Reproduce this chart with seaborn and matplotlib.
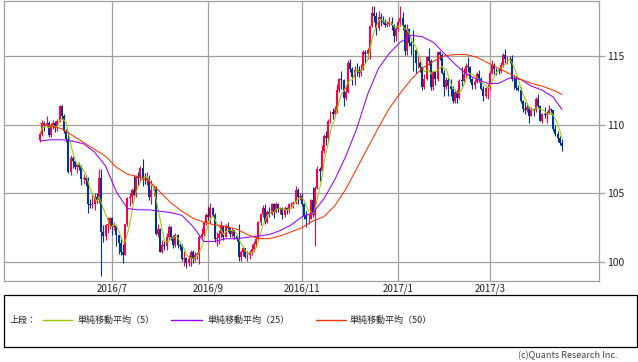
import numpy as np
import pandas as pd
import matplotlib
matplotlib.use("Agg")
import matplotlib.pyplot as plt
from matplotlib.patches import Rectangle
from matplotlib.lines import Line2D
import seaborn as sns

# USD/JPY daily candles 2016/5/17 - 2017/4/17
opens = [
    108.90, 109.35, 110.15, 109.95, 110.15, 109.25, 109.95, 110.15, 109.75, 110.25,
    111.35, 110.65, 109.55, 108.95, 106.55, 107.55, 107.35, 106.95, 107.05, 106.95,
    106.05, 106.15, 105.95, 104.25, 104.15, 104.25, 104.75, 104.55, 106.10, 102.20,
    101.90, 102.70, 102.75, 103.20, 102.55, 102.60, 101.95, 101.40, 100.75, 100.55,
    102.75, 104.65, 104.70, 105.25, 104.85, 106.20, 106.15, 106.85, 106.05, 105.95,
    106.15, 104.70, 105.25, 105.30, 102.05, 102.40, 100.75, 101.25, 101.20, 101.80,
    102.55, 101.85, 101.25, 101.95, 101.25, 101.20, 100.25, 100.30, 99.90, 100.20,
    100.75, 100.20, 100.50, 100.55, 101.85, 102.05, 102.90, 103.40, 103.25, 103.95,
    103.40, 101.70, 101.75, 102.05, 102.65, 101.85, 102.65, 102.45, 102.05, 102.30,
    101.90, 101.70, 100.35, 100.75, 101.00, 100.40, 100.50, 100.70, 100.95, 101.35,
    101.65, 102.90, 103.50, 103.95, 102.95, 103.65, 103.50, 104.20, 103.65, 104.20,
    103.85, 103.90, 103.45, 103.95, 103.80, 104.20, 104.25, 104.30, 105.25, 104.75,
    104.80, 104.20, 103.35, 103.10, 103.15, 104.50, 103.40, 105.40, 106.80, 106.65,
    108.10, 109.15, 109.05, 110.25, 110.90, 110.80, 111.10, 112.50, 113.35, 113.25,
    111.95, 112.40, 114.45, 114.05, 113.50, 114.00, 113.95, 113.75, 114.00, 115.30,
    115.15, 115.40, 117.15, 118.10, 117.90, 117.00, 117.85, 117.60, 117.50, 117.25,
    117.35, 117.45, 117.25, 116.45, 116.95, 117.45, 117.75, 117.25, 115.35, 116.95,
    115.95, 115.75, 115.40, 114.45, 114.50, 114.20, 112.75, 113.35, 114.95, 114.60,
    112.75, 113.80, 113.30, 115.30, 115.10, 113.75, 112.75, 113.25, 112.80, 112.60,
    111.75, 112.35, 111.95, 113.20, 113.15, 113.70, 114.25, 114.20, 113.30, 112.85,
    113.10, 113.65, 113.35, 112.60, 112.10, 112.70, 112.75, 113.75, 114.35, 114.05,
    113.95, 113.90, 114.35, 115.05, 114.75, 114.80, 114.75, 113.35, 113.30, 112.70,
    112.55, 111.75, 111.15, 111.10, 111.30, 110.65, 111.10, 111.05, 111.90, 111.35,
    110.30, 110.75, 110.70, 110.85, 111.10, 111.05, 109.65, 109.35, 109.05, 108.65,
]
closes = [
    109.35, 110.15, 109.95, 110.15, 109.25, 109.95, 110.15, 109.75, 110.25, 111.35,
    110.65, 109.55, 108.95, 106.55, 107.55, 107.35, 106.95, 107.05, 106.95, 106.05,
    106.15, 105.95, 104.25, 104.15, 104.25, 104.75, 104.55, 106.10, 102.20, 101.90,
    102.70, 102.75, 103.20, 102.55, 102.60, 101.95, 101.40, 100.75, 100.55, 102.75,
    104.65, 104.70, 105.25, 104.85, 106.20, 106.15, 106.85, 106.05, 105.95, 106.15,
    104.70, 105.25, 105.30, 102.05, 102.40, 100.75, 101.25, 101.20, 101.80, 102.55,
    101.85, 101.25, 101.95, 101.25, 101.20, 100.25, 100.30, 99.90, 100.20, 100.75,
    100.20, 100.50, 100.55, 101.85, 102.05, 102.90, 103.40, 103.25, 103.95, 103.40,
    101.70, 101.75, 102.05, 102.65, 101.85, 102.65, 102.45, 102.05, 102.30, 101.90,
    101.70, 100.35, 100.75, 101.00, 100.40, 100.50, 100.70, 100.95, 101.35, 101.65,
    102.90, 103.50, 103.95, 102.95, 103.65, 103.50, 104.20, 103.65, 104.20, 103.85,
    103.90, 103.45, 103.95, 103.80, 104.20, 104.25, 104.30, 105.25, 104.75, 104.80,
    104.20, 103.35, 103.10, 103.15, 104.50, 103.40, 105.40, 106.80, 106.65, 108.10,
    109.15, 109.05, 110.25, 110.90, 110.80, 111.10, 112.50, 113.35, 113.25, 111.95,
    112.40, 114.45, 114.05, 113.50, 114.00, 113.95, 113.75, 114.00, 115.30, 115.15,
    115.40, 117.15, 118.10, 117.90, 117.00, 117.85, 117.60, 117.50, 117.25, 117.35,
    117.45, 117.25, 116.45, 116.95, 117.45, 117.75, 117.25, 115.35, 116.95, 115.95,
    115.75, 115.40, 114.45, 114.50, 114.20, 112.75, 113.35, 114.95, 114.60, 112.75,
    113.80, 113.30, 115.30, 115.10, 113.75, 112.75, 113.25, 112.80, 112.60, 111.75,
    112.35, 111.95, 113.20, 113.15, 113.70, 114.25, 114.20, 113.30, 112.85, 113.10,
    113.65, 113.35, 112.60, 112.10, 112.70, 112.75, 113.75, 114.35, 114.05, 113.95,
    113.90, 114.35, 115.05, 114.75, 114.80, 114.75, 113.35, 113.30, 112.70, 112.55,
    111.75, 111.15, 111.10, 111.30, 110.65, 111.10, 111.05, 111.90, 111.35, 110.30,
    110.75, 110.70, 110.85, 111.10, 111.05, 109.65, 109.35, 109.05, 108.65, 108.45,
]
highs = [
    109.50, 110.35, 110.30, 110.60, 110.25, 110.10, 110.35, 110.25, 110.40, 111.45,
    111.40, 110.80, 109.70, 109.50, 107.80, 107.75, 107.45, 107.20, 107.30, 107.05,
    106.40, 106.30, 106.20, 104.60, 104.85, 105.00, 105.00, 106.80, 106.80, 102.70,
    102.80, 103.30, 103.30, 103.30, 102.90, 102.70, 102.00, 101.80, 101.30, 102.80,
    104.70, 105.00, 105.40, 106.30, 106.30, 106.55, 107.00, 107.50, 106.50, 106.55,
    106.30, 106.00, 105.50, 105.50, 102.80, 102.50, 101.60, 101.50, 102.10, 102.70,
    102.65, 101.95, 102.10, 102.05, 101.40, 101.30, 100.80, 100.40, 100.50, 100.85,
    100.90, 100.75, 100.70, 102.00, 102.50, 103.00, 103.55, 104.05, 104.30, 104.00,
    103.60, 102.20, 102.30, 103.00, 102.70, 102.80, 102.90, 102.50, 102.50, 102.35,
    102.00, 102.80, 100.90, 101.20, 101.05, 100.80, 100.90, 101.30, 101.50, 101.80,
    103.00, 103.60, 104.15, 104.20, 103.80, 104.00, 104.30, 104.30, 104.40, 104.25,
    104.00, 104.00, 104.10, 104.00, 104.30, 104.40, 104.45, 105.50, 105.40, 105.00,
    105.00, 104.30, 103.70, 103.50, 104.60, 105.45, 105.50, 107.00, 106.95, 108.55,
    109.35, 109.50, 110.40, 111.00, 111.20, 111.35, 112.95, 113.40, 113.90, 113.30,
    112.90, 114.70, 114.80, 114.20, 114.30, 114.50, 114.30, 114.40, 115.40, 115.45,
    115.60, 117.20, 118.65, 118.60, 118.20, 118.25, 118.15, 117.90, 117.70, 117.55,
    117.80, 117.80, 117.30, 117.20, 117.60, 118.60, 118.20, 117.30, 117.30, 117.05,
    116.10, 116.90, 115.45, 115.00, 114.60, 114.30, 113.70, 115.00, 115.60, 114.75,
    113.90, 113.90, 115.35, 115.35, 115.20, 114.00, 113.50, 113.40, 113.30, 112.80,
    112.50, 112.50, 113.30, 114.20, 114.15, 114.50, 114.95, 114.30, 113.40, 113.30,
    113.80, 113.95, 113.50, 112.80, 112.75, 112.95, 113.90, 114.70, 114.50, 114.10,
    114.10, 114.55, 115.20, 115.50, 115.00, 115.00, 115.10, 113.60, 113.55, 112.90,
    112.75, 111.80, 111.65, 111.60, 111.35, 111.30, 111.20, 112.00, 112.20, 111.40,
    110.85, 111.30, 111.00, 111.40, 111.20, 111.10, 109.95, 109.50, 109.20, 108.95,
]
lows = [
    108.75, 109.20, 109.55, 109.80, 109.10, 109.10, 109.70, 109.45, 109.50, 110.20,
    110.40, 109.40, 108.75, 106.50, 106.30, 106.85, 106.80, 106.50, 106.70, 105.60,
    105.70, 105.50, 103.55, 103.90, 103.90, 103.80, 104.30, 104.30, 99.00, 101.45,
    101.60, 102.10, 102.40, 102.00, 102.30, 101.20, 100.60, 100.50, 99.95, 100.50,
    102.60, 104.05, 104.30, 104.80, 104.75, 105.60, 105.80, 105.50, 105.70, 105.60,
    104.50, 104.20, 104.80, 102.00, 101.80, 100.70, 100.65, 100.90, 100.90, 101.60,
    101.60, 101.00, 101.10, 101.00, 100.90, 100.10, 99.70, 99.55, 99.70, 99.75,
    99.90, 100.05, 100.25, 99.85, 101.75, 101.90, 102.70, 103.05, 102.85, 103.30,
    101.45, 101.20, 101.35, 101.75, 101.60, 101.80, 102.20, 101.80, 101.80, 101.70,
    101.50, 100.10, 100.10, 100.45, 100.30, 100.10, 100.20, 100.50, 100.70, 101.10,
    101.50, 102.70, 103.30, 102.80, 102.85, 103.30, 103.40, 103.20, 103.60, 103.65,
    103.50, 103.10, 103.30, 103.50, 103.60, 103.90, 103.95, 104.20, 104.20, 104.50,
    104.05, 103.15, 102.55, 102.80, 103.10, 103.30, 101.20, 105.30, 105.90, 106.60,
    107.90, 108.50, 108.70, 110.10, 110.40, 110.60, 110.85, 112.40, 112.60, 111.35,
    111.80, 112.30, 113.80, 112.90, 112.90, 113.55, 113.45, 113.55, 113.95, 114.50,
    114.80, 114.75, 117.10, 117.50, 116.55, 116.90, 117.15, 117.35, 117.10, 117.10,
    117.20, 116.90, 116.00, 116.05, 116.80, 117.20, 116.90, 115.10, 115.05, 115.70,
    115.10, 113.90, 113.75, 114.10, 113.80, 112.55, 112.60, 113.25, 114.35, 112.55,
    112.50, 112.90, 113.20, 114.70, 113.70, 112.10, 112.60, 112.10, 112.05, 111.60,
    111.60, 111.60, 111.90, 112.80, 113.10, 113.40, 113.80, 113.10, 112.60, 112.60,
    113.00, 113.10, 112.55, 111.70, 111.95, 111.85, 112.50, 113.65, 113.70, 113.60,
    113.65, 113.75, 114.20, 114.50, 114.40, 114.50, 113.20, 112.60, 112.55, 112.45,
    111.60, 110.90, 110.75, 110.95, 110.10, 110.60, 110.60, 110.95, 111.20, 110.25,
    110.10, 110.45, 110.10, 110.75, 110.80, 109.55, 109.15, 108.75, 108.55, 108.10,
]

# 25- and 50-day moving averages, read every 5 trading days (last at day 239)
ma_days = list(range(0, 240, 5)) + [239]
ma25 = [
    108.8, 108.9, 108.9, 108.8, 108.6, 108.0, 107.0, 105.1, 103.9, 103.8,
    103.8, 103.7, 103.6, 103.4, 102.6, 101.5, 101.5, 101.7, 101.7, 101.8,
    101.9, 102.0, 102.3, 102.7, 103.3, 103.6, 104.6, 106.0, 107.7, 109.7,
    112.2, 114.1, 115.2, 116.0, 116.5, 116.4, 116.0, 115.2, 114.4, 113.7,
    113.3, 113.0, 113.0, 113.4, 113.3, 112.8, 112.5, 112.0, 111.1,
]
ma50 = [
    110.1, 109.9, 109.7, 109.2, 108.7, 108.2, 107.7, 106.9, 106.4, 106.2,
    105.9, 105.1, 104.3, 103.7, 103.2, 102.9, 102.7, 102.6, 102.4, 102.0,
    101.7, 101.7, 101.9, 102.2, 102.5, 103.0, 103.3, 104.1, 105.3, 106.8,
    108.3, 109.8, 111.2, 112.3, 113.3, 114.1, 114.6, 115.0, 115.1, 115.1,
    114.9, 114.5, 114.1, 113.7, 113.3, 113.0, 112.8, 112.5, 112.2,
]

month_starts = ["2016-07-01", "2016-09-01", "2016-11-01", "2017-01-01", "2017-03-01"]
month_labels = ["2016/7", "2016/9", "2016/11", "2017/1", "2017/3"]
y_ticks = [100, 105, 110, 115]
legend_labels = ["単純移動平均（5）", "単純移動平均（25）", "単純移動平均（50）"]

UP = "#ff0040"
DOWN = "#003399"
MA_COLORS = ["#99cc00", "#9900ff", "#ff3300"]
GRID = "#a0a0a0"

sns.set_style("white")
plt.rcParams["font.family"] = ["Noto Sans CJK JP", "DejaVu Sans"]

W, H = 638, 362
fig = plt.figure(figsize=(W / 100, H / 100), dpi=100)
ax = fig.add_axes([3.5 / W, 1 - 280.5 / H, 595 / W, 280 / H])

df = pd.DataFrame({"open": opens, "high": highs, "low": lows, "close": closes})
df["day"] = np.arange(len(df))
dates = pd.bdate_range("2016-05-17", periods=len(df))

up = df["close"] >= df["open"]
for mask, col in [(up, UP), (~up, DOWN)]:
    sub = df[mask]
    ax.vlines(sub["day"], sub["low"], sub["high"], color=col, lw=0.8)
    body = (sub["close"] - sub["open"]).abs().clip(lower=0.06)
    ax.bar(sub["day"], body, bottom=sub[["open", "close"]].min(axis=1),
           width=0.9, color=col, linewidth=0)

df["ma5"] = df["close"].rolling(5, min_periods=1).mean()
ma = pd.DataFrame({"day": ma_days, "ma25": ma25, "ma50": ma50})
sns.lineplot(data=df, x="day", y="ma5", color=MA_COLORS[0], lw=0.75, ax=ax)
sns.lineplot(data=ma, x="day", y="ma25", color=MA_COLORS[1], lw=0.75, ax=ax)
sns.lineplot(data=ma, x="day", y="ma50", color=MA_COLORS[2], lw=0.75, ax=ax)

tick_pos = [int(np.searchsorted(dates, pd.Timestamp(m))) for m in month_starts]
ax.set_xticks(tick_pos, month_labels)
ax.set_yticks(y_ticks)
ax.set_xlim(-16.7, 255.7)
ax.set_ylim(98.66, 119.03)
ax.yaxis.tick_right()
ax.grid(True, color=GRID, lw=0.9)
ax.set_axisbelow(True)
ax.set_xlabel("")
ax.set_ylabel("")
ax.tick_params(axis="x", length=0, pad=2, labelsize=7, labelcolor="#222222")
ax.tick_params(axis="y", length=4, width=0.9, color=GRID, pad=2, labelsize=7.5,
               labelcolor="#222222", right=True, left=False)
for s in ax.spines.values():
    s.set_color(GRID)
    s.set_linewidth(0.9)

# legend panel below the chart
fig.add_artist(Rectangle((3.5 / W, 1 - 346.5 / H), 633 / W, 52 / H,
                         transform=fig.transFigure, fill=False, ec="black", lw=0.9))
ly = 1 - 320 / H
fig.text(10 / W, ly, "上段：", fontsize=6.5, va="center", color="#222222")
line_x = [(43, 72), (171, 202), (316, 346)]
text_x = [77, 207, 350]
for (x0, x1), tx, col, lab in zip(line_x, text_x, MA_COLORS, legend_labels):
    fig.add_artist(Line2D([x0 / W, x1 / W], [ly, ly], color=col, lw=1.0,
                          transform=fig.transFigure))
    fig.text(tx / W, ly, lab, fontsize=6.5, va="center", color="#222222")

fig.text(618 / W, 1 - 356 / H, "(c)Quants Research Inc.", ha="right", va="center",
         fontsize=6.5, color="#444444")

fig.savefig("out.png", dpi=100)
